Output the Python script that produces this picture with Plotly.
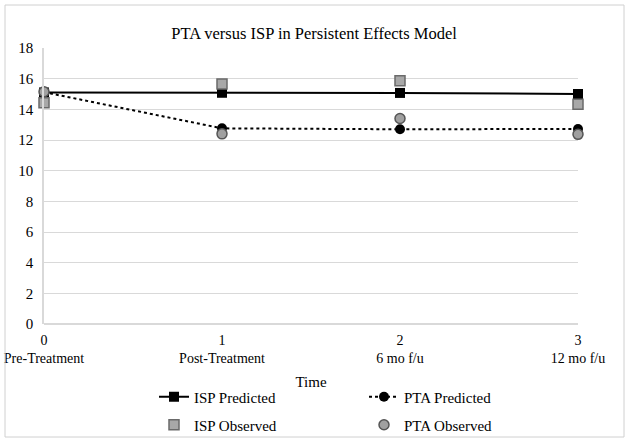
import plotly.graph_objects as go

time_x = [0, 1, 2, 3]
tick_labels = ["0<br>Pre-Treatment", "1<br>Post-Treatment", "2<br>6 mo f/u", "3<br>12 mo f/u"]
isp_predicted = [15.1, 15.08, 15.07, 15.0]
isp_observed = [14.43, 15.65, 15.86, 14.33]
pta_predicted = [15.12, 12.76, 12.7, 12.72]
pta_observed = [15.15, 12.4, 13.4, 12.37]

FONT = "Liberation Serif"
L, R, T, B = 44, 54, 48, 120
PW = 632 - L - R
PH = 444 - T - B

fig = go.Figure()
fig.add_trace(go.Scatter(
    x=time_x, y=isp_predicted, name="ISP Predicted", mode="lines+markers",
    line=dict(color="black", width=2),
    marker=dict(symbol="square", size=10, color="black"),
    cliponaxis=False, legend="legend"))
fig.add_trace(go.Scatter(
    x=time_x, y=pta_predicted, name="PTA Predicted", mode="lines+markers",
    line=dict(color="black", width=2, dash="dot"),
    marker=dict(symbol="circle", size=10, color="black"),
    cliponaxis=False, legend="legend2"))
fig.add_trace(go.Scatter(
    x=time_x, y=isp_observed, name="ISP Observed", mode="markers",
    marker=dict(symbol="square", size=10, color="#a8a8a8", line=dict(color="#6a6a6a", width=1.5)),
    cliponaxis=False, legend="legend3"))
fig.add_trace(go.Scatter(
    x=time_x, y=pta_observed, name="PTA Observed", mode="markers",
    marker=dict(symbol="circle", size=10, color="#a0a0a0", line=dict(color="#555555", width=1.5)),
    cliponaxis=False, legend="legend4"))

leg_common = dict(font=dict(family=FONT, size=15, color="black"), bgcolor="rgba(0,0,0,0)",
                  xanchor="left", yanchor="middle")


def px_x(p):
    return (p - L) / PW


def px_y(p):
    return (444 - B - p) / PH


fig.update_layout(
    width=632, height=444,
    margin=dict(l=L, r=R, t=T, b=B, autoexpand=False),
    paper_bgcolor="white", plot_bgcolor="white",
    font=dict(family=FONT, size=14, color="black"),
    title=dict(text="PTA versus ISP in Persistent Effects Model", x=px_x(314), xref="paper",
               xanchor="center", y=1 - 33 / 444, yanchor="middle",
               font=dict(family=FONT, size=16.5, color="black")),
    showlegend=True,
    legend=dict(x=px_x(154), y=px_y(397), **leg_common),
    legend2=dict(x=px_x(364), y=px_y(397), **leg_common),
    legend3=dict(x=px_x(154), y=px_y(425), **leg_common),
    legend4=dict(x=px_x(364), y=px_y(425), **leg_common),
    xaxis=dict(range=[0, 3], tickmode="array", tickvals=time_x, ticktext=tick_labels,
               showgrid=False, zeroline=False, showline=False, ticks="",
               ticklabelstandoff=6, automargin=False, ticklabeloverflow="allow",
               title=dict(text="Time", standoff=11, font=dict(family=FONT, size=15, color="black")),
               tickfont=dict(family=FONT, size=14, color="black")),
    yaxis=dict(range=[0, 18], dtick=2, showgrid=True, gridcolor="#d9d9d9", gridwidth=1,
               zeroline=True, zerolinecolor="#d9d9d9", zerolinewidth=1.5,
               showline=True, linecolor="#d9d9d9", linewidth=1.5, ticks="",
               ticklabelstandoff=6, automargin=False,
               tickfont=dict(family=FONT, size=15, color="black")),
    shapes=[dict(type="rect", xref="paper", yref="paper",
                 x0=px_x(5), x1=px_x(624), y0=px_y(437), y1=px_y(5),
                 line=dict(color="#d0d0d0", width=1), fillcolor="rgba(0,0,0,0)", layer="above")],
)

fig.write_html("out.html", config={"displayModeBar": False},
               post_script="document.body.style.margin='0';")
